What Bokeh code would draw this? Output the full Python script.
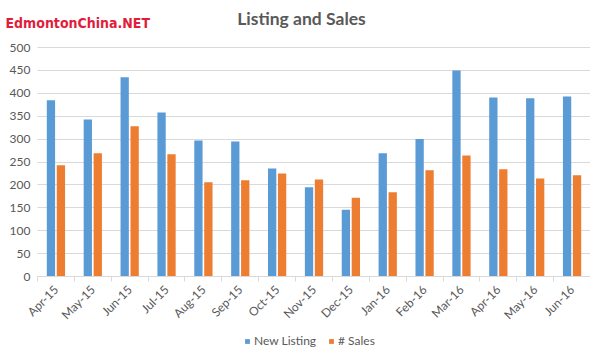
from bokeh.plotting import figure
from bokeh.models import (ColumnDataSource, Range1d, FixedTicker, Legend, LegendItem, Label)
from bokeh.transform import dodge
from bokeh.embed import file_html
from bokeh.resources import INLINE

months = ["Apr-15", "May-15", "Jun-15", "Jul-15", "Aug-15", "Sep-15", "Oct-15", "Nov-15",
          "Dec-15", "Jan-16", "Feb-16", "Mar-16", "Apr-16", "May-16", "Jun-16"]
new_listing = [385, 343, 435, 358, 297, 295, 236, 195, 146, 269, 300, 450, 391, 389, 393]
sales = [243, 269, 328, 267, 206, 210, 225, 212, 172, 184, 232, 264, 234, 214, 221]
y_ticks = [0, 50, 100, 150, 200, 250, 300, 350, 400, 450, 500]

xpos = [i + 0.5 for i in range(len(months))]
source = ColumnDataSource(dict(x=xpos, listing=new_listing, sales=sales))

BLUE = "#5b9bd5"
ORANGE = "#ed7d31"
GRAY = "#595959"
LINE = "#d9d9d9"
FONT = "Lato"

# layout (pixels): the frame fills the whole figure, axes sit inside it
W, H = 590, 350
PLOT_L, PLOT_R, PLOT_T, PLOT_B = 37, 590, 47, 276
n = len(months)
ymax = y_ticks[-1]
sx = (PLOT_R - PLOT_L) / n
sy = (PLOT_B - PLOT_T) / ymax
x_range = Range1d(-PLOT_L / sx, n + (W - PLOT_R) / sx)
y_range = Range1d(-(H - PLOT_B) / sy, ymax + PLOT_T / sy)

p = figure(width=W, height=H, output_backend="svg", toolbar_location=None,
           x_range=x_range, y_range=y_range,
           min_border_left=0, min_border_right=0, min_border_top=0, min_border_bottom=0)

r1 = p.vbar(x=dodge("x", -0.135, range=p.x_range), top="listing", width=0.225,
            source=source, fill_color=BLUE, line_color=None)
r2 = p.vbar(x=dodge("x", 0.135, range=p.x_range), top="sales", width=0.225,
            source=source, fill_color=ORANGE, line_color=None)

p.outline_line_color = None
p.xgrid.visible = False
p.ygrid.ticker = FixedTicker(ticks=y_ticks)
p.ygrid.grid_line_color = LINE
try:
    p.ygrid.cross_bounds = (0, n)
except AttributeError:
    p.ygrid.visible = False
    p.segment(x0=0, x1=n, y0=y_ticks, y1=y_ticks, line_color=LINE, level="underlay")

p.yaxis.fixed_location = 0
p.yaxis.bounds = (0, ymax)
p.yaxis.ticker = FixedTicker(ticks=y_ticks)
p.yaxis.axis_line_color = None
p.yaxis.major_tick_line_color = None
p.yaxis.minor_tick_line_color = None
p.yaxis.major_tick_out = 0
p.yaxis.major_tick_in = 0
p.yaxis.major_label_text_font = FONT
p.yaxis.major_label_text_font_size = "12px"
p.yaxis.major_label_text_color = GRAY
p.yaxis.major_label_standoff = 7

p.xaxis.fixed_location = 0
p.xaxis.bounds = (0, n)
p.xaxis.ticker = FixedTicker(ticks=xpos, minor_ticks=list(range(n + 1)))
p.xaxis.major_label_overrides = {x: m for x, m in zip(xpos, months)}
p.xaxis.major_label_orientation = 0.785398
p.xaxis.axis_line_color = LINE
p.xaxis.major_tick_line_color = None
p.xaxis.major_tick_out = 0
p.xaxis.minor_tick_line_color = LINE
p.xaxis.minor_tick_in = 0
p.xaxis.minor_tick_out = 5
p.xaxis.major_label_text_font = FONT
p.xaxis.major_label_text_font_size = "12px"
p.xaxis.major_label_text_color = GRAY
p.xaxis.major_label_standoff = 6

legend = Legend(items=[LegendItem(label="New Listing", renderers=[r1]),
                       LegendItem(label="# Sales", renderers=[r2])],
                orientation="horizontal", location=(244, H - 348),
                padding=0, margin=0, spacing=12, label_standoff=4,
                glyph_width=6, glyph_height=6,
                border_line_color=None, background_fill_alpha=0,
                label_text_font=FONT, label_text_font_size="12px", label_text_color=GRAY)
p.add_layout(legend, "center")

title = Label(x=301, y=H - 18, x_units="screen", y_units="screen", text="Listing and Sales",
              text_align="center", text_baseline="middle",
              text_font=FONT, text_font_size="17.5px", text_font_style="bold",
              text_color=GRAY)
p.add_layout(title)

wm = Label(x=5, y=H - 22, x_units="screen", y_units="screen", text="EdmontonChina.NET",
           text_font="DejaVu Sans Condensed", text_font_size="14px", text_font_style="bold",
           text_baseline="alphabetic", text_color="#e01e3c")
p.add_layout(wm)

open("out.html", "w").write(file_html(p, INLINE))
